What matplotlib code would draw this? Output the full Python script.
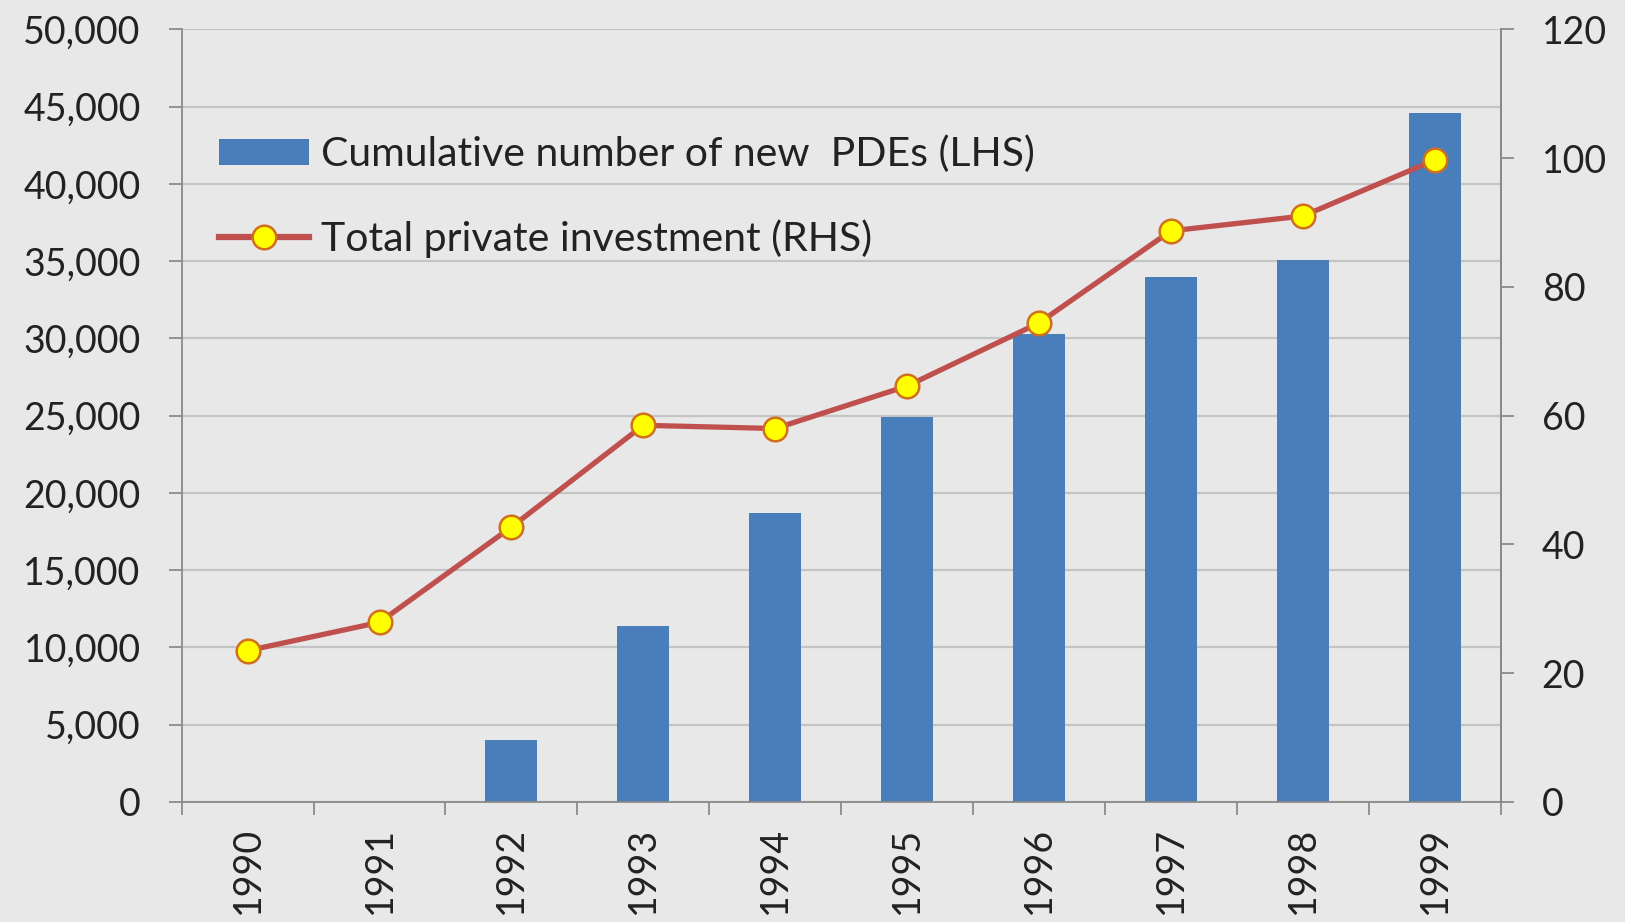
import matplotlib
matplotlib.use("Agg")
import matplotlib.pyplot as plt
from matplotlib.patches import Patch
from matplotlib.lines import Line2D
from matplotlib.ticker import FuncFormatter

# Data
years = ["1990", "1991", "1992", "1993", "1994", "1995", "1996", "1997", "1998", "1999"]
new_pdes_cumulative = [0, 0, 4000, 11400, 18700, 24900, 30300, 34000, 35100, 44600]
private_investment = [23.5, 27.9, 42.7, 58.5, 58.0, 64.6, 74.4, 88.7, 91.0, 99.7]
left_ticks = [0, 5000, 10000, 15000, 20000, 25000, 30000, 35000, 40000, 45000, 50000]
right_ticks = [0, 20, 40, 60, 80, 100, 120]

BG = "#e8e8e8"
BAR = "#4a7ebb"
LINE = "#c0504d"
MARK_FACE = "#ffff00"
MARK_EDGE = "#d0701f"
GRID = "#c4c4c4"
SPINE = "#8a8a8a"
TEXT = "#222222"
FONT = "Lato"
FS = 27
LEG_FS = 29.5

plt.rcParams["font.family"] = [FONT, "DejaVu Sans"]

fig = plt.figure(figsize=(16.25, 9.22), dpi=100, facecolor=BG)
ax = fig.add_axes([0.1118, 0.1302, 0.8117, 0.838], facecolor=BG)

x = list(range(len(years)))
ax.bar(x, new_pdes_cumulative, width=0.395, color=BAR, zorder=2)

ax.set_xlim(-0.5, len(years) - 0.5)
ax.set_ylim(0, 50000)
ax.set_yticks(left_ticks)
ax.yaxis.set_major_formatter(FuncFormatter(lambda v, p: f"{int(v):,}"))
ax.grid(axis="y", color=GRID, linewidth=1.6, zorder=0)
ax.set_axisbelow(True)

# category boundaries carry the tick marks, centres carry the labels
ax.set_xticks([i - 0.5 for i in range(len(years) + 1)])
ax.set_xticklabels([])
ax.set_xticks(x, minor=True)
ax.set_xticklabels(years, minor=True, rotation=90, fontsize=FS, color=TEXT)
ax.tick_params(axis="x", which="major", length=9.5, width=1.3, color=SPINE, direction="out")
ax.tick_params(axis="x", which="minor", length=0, pad=18)
ax.tick_params(axis="y", length=9.5, width=1.3, color=SPINE, direction="out",
               labelsize=FS, labelcolor=TEXT, pad=20)

ax.spines["top"].set_visible(False)
for s in ["left", "bottom", "right"]:
    ax.spines[s].set_color(SPINE)
    ax.spines[s].set_linewidth(1.3)

ax2 = ax.twinx()
ax2.plot(x, private_investment, color=LINE, linewidth=3.8, marker="o", markersize=17,
         markerfacecolor=MARK_FACE, markeredgecolor=MARK_EDGE, markeredgewidth=1.8, zorder=3)
ax2.set_ylim(0, 120)
ax2.set_yticks(right_ticks)
ax2.tick_params(axis="y", length=9.5, width=1.3, color=SPINE, direction="out",
                labelsize=FS, labelcolor=TEXT, pad=20)
for s in ["top", "left", "bottom"]:
    ax2.spines[s].set_visible(False)
ax2.spines["right"].set_color(SPINE)
ax2.spines["right"].set_linewidth(1.3)

handles = [
    Patch(facecolor=BAR, edgecolor="none"),
    Line2D([0], [0], color=LINE, linewidth=4.5, marker="o", markersize=17,
           markerfacecolor=MARK_FACE, markeredgecolor=MARK_EDGE, markeredgewidth=1.8),
]
labels = ["Cumulative number of new  PDEs (LHS)", "Total private investment (RHS)"]
leg = ax2.legend(handles, labels, loc="upper left", bbox_to_anchor=(0.1348, 0.853),
                 bbox_transform=fig.transFigure, frameon=False, fontsize=LEG_FS,
                 handlelength=2.2, handleheight=0.6, handletextpad=0.3,
                 labelspacing=1.12, borderpad=0, borderaxespad=0)
for t in leg.get_texts():
    t.set_color(TEXT)

fig.savefig("out.png", dpi=100, facecolor=BG)
